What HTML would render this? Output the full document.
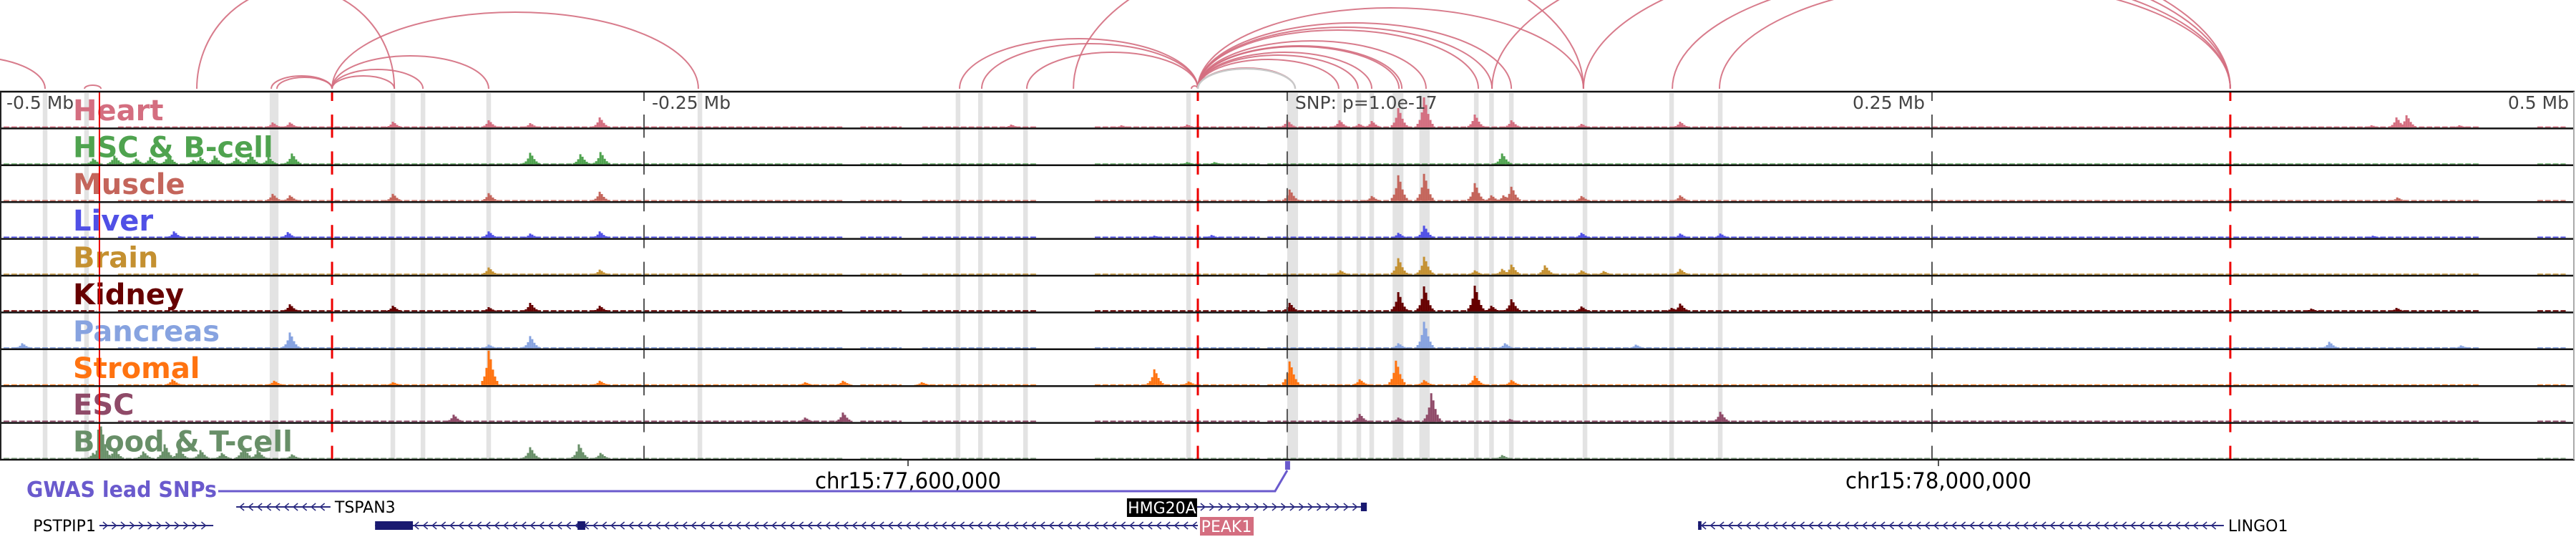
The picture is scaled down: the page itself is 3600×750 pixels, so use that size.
<!DOCTYPE html>
<html><head><meta charset="utf-8">
<style>
html,body{margin:0;padding:0;background:#fff;}
svg{display:block;}
text{font-family:"DejaVu Sans","Liberation Sans",sans-serif;}
</style></head>
<body>
<svg id="chart" xmlns="http://www.w3.org/2000/svg" width="3600" height="750" viewBox="0 0 3600 750">
<rect x="0" y="0" width="3600" height="750" fill="#fff"/>
<g id="arcs"></g>
<g id="bands"></g>
<g id="labels"></g>
<g id="signals"></g>
<g id="vlines"></g>
<g id="borders"></g>
<g id="scale"></g>
<g id="bottom"></g>
</svg>
<script>
// ---------- data (positions in kb from window start; window = 1000 kb) ----------
const windowStartKb = 77247.5;
const trackNames = ["Heart","HSC & B-cell","Muscle","Liver","Brain","Kidney","Pancreas","Stromal","ESC","Blood & T-cell"];
const trackColors = ["#d46e80","#4fa34f","#c4655b","#5050e6","#c49030","#660000","#87a3e0","#ff7310","#8f4a68","#688f68"];
const bgLevels = [2,1.5,2,2.5,2,2.5,2,1.5,2.5,1.5];
const bgRanges = [[1.4,37.5],[45.8,327],[334,350],[358,403],[425,489],[492,962.5],[985,996]];

const heartPeaks = [[105.8,7],[112.5,7],[152.5,8],[189.7,10],[205.8,6],[232.8,14],[392.5,4],[435.3,3],[460.8,4],[499.7,10],[520,10],[527.5,5],[532.5,9],[542.8,27],[552.8,42],[572.5,18],[586.7,10],[613.9,5],[652.2,8],[930.3,14],[934.2,17],[920.6,3],[954.7,3]];
const hscPeaks = [[36.1,8],[44.4,12],[52.8,8],[58.3,10],[65.3,14],[75,6],[77.8,10],[83.3,12],[91.7,9],[97.2,14],[104.2,10],[113.3,15],[205.8,16],[225.3,14],[233.1,17],[460.8,3],[471.4,3],[583.1,15]];
const musclePeaks = [[105.8,10],[112.5,8],[152.5,10],[189.7,11],[232.8,13],[500.6,16],[532.5,7],[542.8,36],[552.8,38],[572.5,25],[578.9,8],[583.6,8],[586.7,20],[613.9,7],[652.2,8],[930.6,5]];
const liverPeaks = [[67.5,9],[111.7,8],[189.7,9],[205.8,6],[232.8,9],[448.1,3],[470.3,4],[542.8,7],[552.8,17],[613.9,7],[652.2,6],[667.8,6],[921.1,3]];
const brainPeaks = [[189.7,10],[232.8,7],[520.3,6],[542.8,23],[552.8,25],[572.5,6],[583.1,8],[586.7,14],[599.7,13],[613.9,6],[622.5,5],[652.2,8]];
const kidneyPeaks = [[112.5,10],[152.5,8],[189.7,6],[205.8,12],[232.8,8],[500.6,12],[542.8,27],[552.8,35],[572.5,36],[578.9,8],[586.7,17],[613.9,7],[648.9,5],[652.2,11],[930.3,5],[897.2,4]];
const pancreasPeaks = [[8.6,7],[112.5,22],[189.7,5],[205.8,17],[542.8,7],[552.8,37],[584.2,7],[635,5],[904.2,9],[955.3,4]];
const stromalPeaks = [[66.9,8],[106.4,6],[152.5,4],[189.7,48],[232.8,6],[312.5,4],[327.2,6],[357.8,4],[448.1,22],[461.4,5],[500.6,33],[527.8,8],[541.9,34],[552.8,7],[572.5,13],[586.7,7]];
const escPeaks = [[176.1,10],[312.5,6],[327.2,13],[527.8,11],[542.8,6],[555.6,40],[586.1,4],[667.8,14]];
const bloodPeaks = [[36.1,8],[39.2,45],[44.4,14],[55.6,10],[63.9,20],[69.4,15],[77.8,12],[86.1,8],[94.4,18],[100,12],[113.3,6],[205.8,16],[224.7,20],[233.1,8],[583.1,5]];
const allPeaks = [heartPeaks,hscPeaks,musclePeaks,liverPeaks,brainPeaks,kidneyPeaks,pancreasPeaks,stromalPeaks,escPeaks,bloodPeaks];

const arcStarts = [-41.7,76.4,32.8,105.3,107.5,128.9,128.9,128.9,128.9,372.5,381.1,398.6,462.5,465,465,465,465,465,465,465,465,465,465,465,416.7,579.2,614.7,649.2,667.5];
const arcEnds   = [17.5,153.1,39.2,128.9,128.9,153.1,164.2,189.7,271.1,465,465,465,465,502.8,519.7,527.2,532.5,543.1,544.2,553.6,573.9,579.2,586.7,614.7,614.7,865.8,865.8,865.8,865.8];
const arcHeights= [45,142,5,18,16,18,27,46,107,70,63,51,4,29,41,47,51,59,60,67,82,86,92,113,200,217,190,164,150];

const bandRegions = [[16.6,18.4],[32.7,34.5],[104.7,106.5],[106.3,108.1],[151.6,153.4],[163.3,165.1],[188.8,190.6],[270.8,272.6],[371,372.8],[379.7,381.5],[397.2,399],[460.5,462.3],[499.7,503.9],[519.1,520.9],[526.6,528.4],[531.6,533.4],[540.6,544.8],[551,555],[572.2,574],[578.1,579.9],[585.8,587.6],[614.4,616.2],[648,649.8],[666.9,668.7]];
const redDashedKb = [128.9,465,865.8];
const redSolidKb = [38.6];
const grayDashedKb = [250,499.7,750];
const scaleTickLabels = ["-0.5 Mb","-0.25 Mb","0.25 Mb","0.5 Mb"];
const scaleTickKb = [0,250,750,1000];
const coordLabels = ["chr15:77,600,000","chr15:78,000,000"];
const coordKb = [77600,78000];

const genes = [
 {name:"PSTPIP1",start:38.6,end:82.8,strand:1,row:1,exons:[],label:"left"},
 {name:"TSPAN3",start:91.7,end:128.3,strand:-1,row:0,exons:[],label:"right"},
 {name:"PEAK1",start:145.6,end:465,strand:-1,row:1,exons:[[145.6,160.3],[224.2,227.2]],label:"box-pink"},
 {name:"HMG20A",start:464.7,end:529.4,strand:1,row:0,exons:[[528.3,530.6]],label:"box-black"},
 {name:"LINGO1",start:659.2,end:863.3,strand:-1,row:1,exons:[[659.2,660.5]],label:"right"}
];
const gwasSnpKb = 499.7;

// ---------- scales ----------
const NS="http://www.w3.org/2000/svg";
const X = kb => kb*3.6;
const XG = kb => (kb-windowStartKb)*3.6;
const trackTop = i => 128 + i*51.4;
const trackBase = i => trackTop(i) + 50;
const Y = (i,v) => trackBase(i) - v;
function mk(tag, attrs, parent){const e=document.createElementNS(NS,tag);for(const k in attrs)e.setAttribute(k,attrs[k]);parent.appendChild(e);return e;}

// arcs
const gArcs=document.getElementById('arcs');
for(let i=0;i<arcStarts.length;i++){
  const x1=X(arcStarts[i]),x2=X(arcEnds[i]),rx=(x2-x1)/2,ry=arcHeights[i];
  const p=mk('path',{d:`M${x1},124 A${rx},${ry} 0 0 1 ${x2},124`,fill:'none',stroke:'#d46e80','stroke-width':2,'stroke-opacity':0.9},gArcs);
  
  
}
{const p=mk('path',{d:`M${X(465)},124 A${(X(502.8)-X(465))/2},28 0 0 1 ${X(502.8)},124`,fill:'none',stroke:'#c8c8c8','stroke-width':2.5},gArcs);

}

// bands
const gB=document.getElementById('bands');
for(const b of bandRegions){
  const r=mk('rect',{x:X(b[0]),y:130,width:X(b[1])-X(b[0]),height:511,fill:'#e3e3e3'},gB);
  
  
}

// labels
const gL=document.getElementById('labels');
trackNames.forEach((n,i)=>{
  const t=mk('text',{x:102,y:trackTop(i)+40,'font-size':40,'font-weight':'bold',fill:trackColors[i]},gL);
  t.textContent=n;
  
  
});

// signals
const gS=document.getElementById('signals');
const shape=[0.12,0.25,0.5,1,0.75,0.45,0.25,0.12];
allPeaks.forEach((peaks,i)=>{
  const g=mk('g',{fill:trackColors[i]},gS);
  
  
  for(const r of bgRanges){
    for(let kb=r[0];kb<r[1];kb+=3){
      const w=Math.min(2.2,r[1]-kb)*3.6;
      const bar=mk('rect',{x:X(kb),y:Y(i,bgLevels[i]*0.7),width:w,height:bgLevels[i]*0.7},g);
      
      
    }
  }
  for(const p of peaks){
    for(let k=0;k<shape.length;k++){
      const h=p[1]*shape[k];
      const bar=mk('rect',{x:X(p[0])-10.5+k*3,y:Y(i,h),width:3,height:h},g);
      
      
    }
  }
});

// vertical marker lines
const gV=document.getElementById('vlines');
function segLine(kb,color,w,name){
  for(let i=0;i<10;i++){
    const T=trackTop(i);
    [[T,T+13],[T+32,T+51.4]].forEach(s=>{
      const l=mk('line',{x1:X(kb),x2:X(kb),y1:s[0],y2:s[1],stroke:color,'stroke-width':w},gV);
      
      
    });
  }
}
grayDashedKb.forEach(kb=>segLine(kb,'#555',2,'scale-tick-line'));
redDashedKb.forEach(kb=>segLine(kb,'#ee0000',3,'anchor-line'));
redSolidKb.forEach(kb=>{const l=mk('line',{x1:X(kb),x2:X(kb),y1:128,y2:642,stroke:'#ee0000','stroke-width':2},gV);

});

// borders
const gBo=document.getElementById('borders');
for(let i=0;i<=10;i++){
  const l=mk('line',{x1:0,x2:3598,y1:trackTop(i),y2:trackTop(i),stroke:'#111','stroke-width':2.5},gBo);
  
  
}
[[1,'#222'],[3597,'#aaa']].forEach(v=>{const l=mk('line',{x1:v[0],x2:v[0],y1:128,y2:642,stroke:v[1],'stroke-width':2},gBo);

});

// scale labels
const gSc=document.getElementById('scale');
scaleTickLabels.forEach((s,i)=>{
  const kb=scaleTickKb[i];
  let x=X(kb), anchor='start';
  if(kb===0){x=9;} else if(kb<500){x=X(kb)+11;} else if(kb===1000){x=3590;anchor='end';} else {x=X(kb)-10;anchor='end';}
  const t=mk('text',{x:x,y:152,'font-size':25,fill:'#444','text-anchor':anchor},gSc);
  t.textContent=s;
  
  
});
{const t=mk('text',{x:X(gwasSnpKb)+11,y:152,'font-size':25,fill:'#444'},gSc);t.textContent='SNP: p=1.0e-17';

}

// bottom: coordinate axis, GWAS, genes
const gBt=document.getElementById('bottom');
coordLabels.forEach((s,i)=>{
  const x=XG(coordKb[i]);
  const tk=mk('line',{x1:x,x2:x,y1:643,y2:651,stroke:'#555','stroke-width':2},gBt);
  
  
  const t=mk('text',{x:x,y:682,'font-size':31,fill:'#000','text-anchor':'middle',textLength:260,lengthAdjust:'spacingAndGlyphs'},gBt);
  t.textContent=s;
  
  
});
{
  const t=mk('text',{x:37,y:694,'font-size':30,'font-weight':'bold',fill:'#6a5acd',textLength:266,lengthAdjust:'spacingAndGlyphs'},gBt);
  t.textContent='GWAS lead SNPs';
  
  
  const sx=X(gwasSnpKb);
  const p=mk('path',{d:`M305,686 L${sx-17},686 L${sx},657`,fill:'none',stroke:'#6a5acd','stroke-width':3},gBt);
  
  
  const r=mk('rect',{x:sx-3,y:644,width:7,height:12,fill:'#6a5acd'},gBt);
  
  
}
genes.forEach(g=>{
  const y= g.row===0?708:734;
  const x1=X(g.start),x2=X(g.end);
  const grp=mk('g',{},gBt);
  
  
  mk('line',{x1:x1,x2:x2,y1:y,y2:y,stroke:'#2a2a80','stroke-width':2},grp);
  let d='';
  for(let x=x1+8;x<x2-4;x+=12.5){
    if(g.strand>0) d+=`M${x-3},${y-5} L${x+3},${y} L${x-3},${y+5} `;
    else d+=`M${x+3},${y-5} L${x-3},${y} L${x+3},${y+5} `;
  }
  mk('path',{d:d,fill:'none',stroke:'#2a2a80','stroke-width':1.5},grp);
  g.exons.forEach(e=>mk('rect',{x:X(e[0]),y:y-6,width:Math.max(4,X(e[1])-X(e[0])),height:12,fill:'#191970'},grp));
  if(g.label==='left'){
    const t=mk('text',{x:x1-5,y:y+8,'font-size':22,'text-anchor':'end',fill:'#000'},grp);t.textContent=g.name;
  } else if(g.label==='right'){
    const t=mk('text',{x:x2+6,y:y+8,'font-size':22,fill:'#000'},grp);t.textContent=g.name;
  } else if(g.label==='box-black'){
    mk('rect',{x:x1-98,y:696,width:98,height:26,fill:'#000'},grp);
    const t=mk('text',{x:x1-49,y:717,'font-size':22,'text-anchor':'middle',fill:'#fff'},grp);t.textContent=g.name;
  } else {
    mk('rect',{x:x2+3,y:722,width:75,height:26,fill:'#d46e80'},grp);
    const t=mk('text',{x:x2+40,y:743,'font-size':22,'text-anchor':'middle',fill:'#fff'},grp);t.textContent=g.name;
  }
});
</script>
</body></html>
